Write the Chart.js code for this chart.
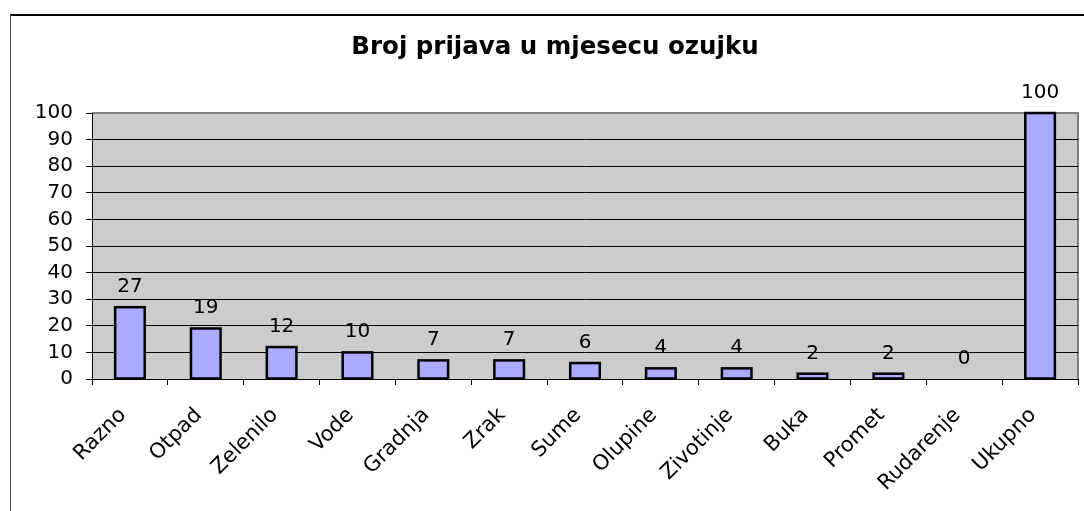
<!DOCTYPE html>
<html>
<head>
<meta charset="utf-8">
<script src="https://cdn.jsdelivr.net/npm/chart.js@4.4.1/dist/chart.umd.min.js"></script>
<style>
  html, body { margin: 0; padding: 0; background: #fff; }
  #wrap { position: relative; width: 1084px; height: 511px; overflow: hidden; }
  #frame { position: absolute; left: 10px; top: 14px; width: 1100px; height: 600px;
           border-top: 2px solid #000; border-left: 1px solid #555; }
  canvas { position: absolute; left: 0; top: 0; }
</style>
</head>
<body>
<div id="wrap">
  <div id="frame"></div>
  <canvas id="prijaveChart" width="1084" height="511"></canvas>
</div>
<script>
// Podaci
var chartTitle = 'Broj prijava u mjesecu ozujku';
var categories = ['Razno', 'Otpad', 'Zelenilo', 'Vode', 'Gradnja', 'Zrak', 'Sume', 'Olupine', 'Zivotinje', 'Buka', 'Promet', 'Rudarenje', 'Ukupno'];
var prijave = [27, 19, 12, 10, 7, 7, 6, 4, 4, 2, 2, 0, 100];
var yTicks = [0, 10, 20, 30, 40, 50, 60, 70, 80, 90, 100];

var fontFamily = 'Verdana, "DejaVu Sans", sans-serif';

// gray plot background with gray top/right border, plus the title
var plotBackground = {
    id: 'plotBackground',
    beforeDraw: function (chart) {
        var a = chart.chartArea, ctx = chart.ctx;
        ctx.save();
        ctx.fillStyle = '#cccccc';
        ctx.fillRect(a.left, a.top, a.right - a.left, a.bottom - a.top);
        ctx.strokeStyle = '#808080';
        ctx.lineWidth = 2;
        ctx.beginPath();
        ctx.moveTo(a.left, a.top);
        ctx.lineTo(a.right, a.top);
        ctx.lineTo(a.right, a.bottom);
        ctx.stroke();

        ctx.fillStyle = '#000';
        ctx.font = 'bold 24.5px ' + fontFamily;
        ctx.textAlign = 'center';
        ctx.textBaseline = 'alphabetic';
        ctx.fillText(chartTitle, 555, 54);
        ctx.restore();
    }
};

// bar outlines (centered on the edge) and value labels above bars
var valueLabels = {
    id: 'valueLabels',
    afterDatasetsDraw: function (chart) {
        var ctx = chart.ctx;
        var meta = chart.getDatasetMeta(0);
        ctx.save();
        ctx.strokeStyle = '#000';
        ctx.lineWidth = 2.5;
        meta.data.forEach(function (bar) {
            if (Math.abs(bar.base - bar.y) < 0.5) return;
            ctx.strokeRect(bar.x - bar.width / 2, bar.y, bar.width, bar.base - bar.y);
        });
        ctx.font = '20px ' + fontFamily;
        ctx.fillStyle = '#000';
        ctx.textAlign = 'center';
        ctx.textBaseline = 'alphabetic';
        meta.data.forEach(function (bar, i) {
            ctx.fillText(String(chart.data.datasets[0].data[i]), bar.x, bar.y - 15);
        });
        ctx.restore();
    }
};

var ctx = document.getElementById('prijaveChart').getContext('2d');
var prijaveChart = new Chart(ctx, {
    type: 'bar',
    data: {
        labels: categories,
        datasets: [{
            label: 'Broj prijava',
            data: prijave,
            backgroundColor: '#aaaaff',
            borderWidth: 0,
            barPercentage: 0.39,
            categoryPercentage: 1
        }]
    },
    options: {
        responsive: false,
        animation: false,
        layout: { padding: { left: 0, right: 6, top: 113, bottom: 0 } },
        plugins: {
            legend: { display: false },
            tooltip: { enabled: false },
            title: { display: false }
        },
        scales: {
            x: {
                grid: { drawOnChartArea: false, drawTicks: true, tickLength: 6, tickColor: '#000', offset: true },
                border: { color: '#000', width: 1 },
                ticks: {
                    autoSkip: false, minRotation: 45, maxRotation: 45, padding: 18, labelOffset: -7,
                    color: '#000', font: { family: fontFamily, size: 21 }
                },
                afterFit: function (s) { s.height = 132; }
            },
            y: {
                min: 0, max: 100,
                afterBuildTicks: function (s) { s.ticks = yTicks.map(function (v) { return { value: v }; }); },
                grid: {
                    color: function (c) { return c.tick && c.tick.value === 100 ? 'rgba(0,0,0,0)' : '#000'; },
                    tickColor: '#000', tickLength: 6
                },
                border: { color: '#000', width: 1 },
                ticks: { autoSkip: false, padding: 13, color: '#000', font: { family: fontFamily, size: 20 } },
                afterFit: function (s) { s.width = 92; }
            }
        }
    },
    plugins: [plotBackground, valueLabels]
});
</script>
</body>
</html>
